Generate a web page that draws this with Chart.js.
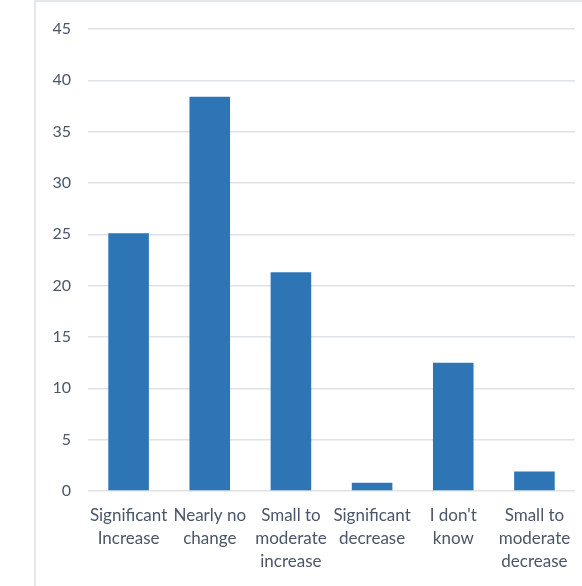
<!DOCTYPE html>
<html>
<head>
<meta charset="utf-8">
<script src="https://cdn.jsdelivr.net/npm/chart.js@4"></script>
<style>
  html, body { margin: 0; padding: 0; background: #fff; }
  #wrap { position: relative; width: 582px; height: 586px; overflow: hidden; }
  #frame { position: absolute; left: 34px; top: 0; width: 600px; height: 620px; border: 2px solid #e3e6ea; box-sizing: border-box; }
  #chart { position: absolute; left: 0; top: 0; }
</style>
</head>
<body>
<div id="wrap">
  <div id="frame"></div>
  <canvas id="chart" width="582" height="586"></canvas>
</div>
<script>
// categories and values
const categories = [
  ["Significant", "Increase"],
  ["Nearly no", "change"],
  ["Small to", "moderate", "increase"],
  ["Significant", "decrease"],
  ["I don't", "know"],
  ["Small to", "moderate", "decrease"]
]
const values = [25.1, 38.4, 21.3, 0.8, 12.5, 1.9]
const yTicks = [0, 5, 10, 15, 20, 25, 30, 35, 40, 45]

const textColor = "#4a5669"
const font = { family: "Lato, 'Open Sans', sans-serif", size: 17, lineHeight: 1.35 }

function Elem(id){ return document.getElementById(id) }

new Chart(Elem("chart"), {
  type: "bar",
  data: {
    labels: categories,
    datasets: [{
      data: values,
      backgroundColor: "#2e75b6",
      barPercentage: 0.5,
      categoryPercentage: 1
    }]
  },
  options: {
    responsive: false,
    animation: false,
    layout: { padding: { left: 0, right: 7, top: 0, bottom: 0 } },
    plugins: { legend: { display: false }, tooltip: { enabled: false } },
    scales: {
      x: {
        grid: { display: false },
        border: { display: false },
        ticks: { color: textColor, font: font, maxRotation: 0, autoSkip: false, padding: 5 },
        afterFit: (s) => { s.height = 95 }
      },
      y: {
        min: 0,
        max: 45,
        afterBuildTicks: (s) => { s.ticks = yTicks.map(v => ({ value: v })) },
        grid: { color: "#dfe2e6", lineWidth: 1.5, drawTicks: false },
        border: { display: false },
        ticks: { color: textColor, font: { family: font.family, size: 16 }, padding: 17 },
        afterFit: (s) => { s.width = 88; s.paddingTop = 29; s.paddingBottom = 0 }
      }
    }
  }
})
</script>
</body>
</html>
